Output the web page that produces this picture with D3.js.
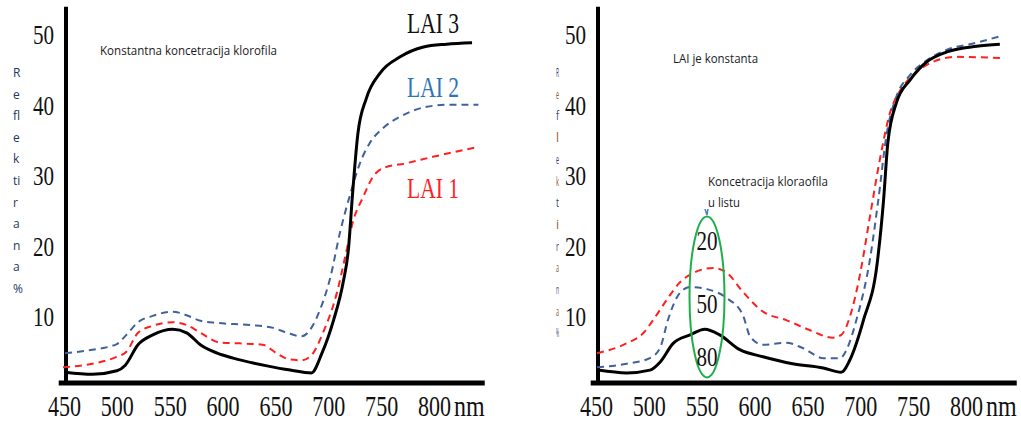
<!DOCTYPE html>
<html>
<head>
<meta charset="utf-8">
<script src="https://cdn.jsdelivr.net/npm/d3@7"></script>
<style>
body{margin:0;background:#fff;}
svg{display:block;}
</style>
</head>
<body>
<div id="chart"></div>
<script>
// wavelength (nm) / reflectance (%) pairs
var leftLai3 = [[451,2.1],[477,1.8],[500,2.3],[508,3.1],[520,6.0],[534,7.4],[553,8.2],[566,7.7],[579,6.0],[595,4.8],[610,4.1],[642,3.0],[664,2.4],[684,2.0],[694,4.8],[705,9.5],[714,14.8],[719,19.5],[723,27.5],[728,36],[736,41],[749,44.6],[768,46.9],[790,48.3],[812,48.7],[836,48.9]];
var leftLai2 = [[451,4.8],[477,5.3],[500,6.1],[509,7.4],[520,9.2],[534,10.1],[553,10.7],[566,10.2],[579,9.4],[595,9.1],[626,8.8],[648,8.4],[661,7.7],[675,7.2],[684,8.4],[692,10.9],[702,15.6],[711,21.9],[721,27.5],[730,31.8],[739,34.6],[752,36.8],[768,38.4],[793,39.8],[815,40.1],[842,40.1]];
var leftLai1 = [[449,2.8],[477,3.3],[500,4.3],[509,5.0],[520,7.7],[534,8.7],[553,9.2],[566,8.8],[579,7.7],[598,6.3],[616,6.2],[638,6.0],[651,4.8],[664,3.9],[675,3.8],[684,4.5],[695,7.7],[708,13.3],[718,19.9],[723,23.3],[733,27],[742,29.8],[752,31.1],[774,31.8],[799,32.7],[842,34.1]];

var rightChl80 = [[452,2.4],[479,2.0],[501,2.4],[511,3.6],[523,6.2],[539,7.4],[553,8.2],[567,7.4],[586,5.3],[608,4.3],[636,3.3],[665,2.7],[682,2.1],[690,3.8],[703,9.5],[716,17.6],[722,26.5],[726,34.6],[734,40.3],[747,43.6],[763,46.2],[782,47.6],[810,48.4],[832,48.7]];
var rightChl50 = [[451,2.8],[479,3.3],[501,4.1],[511,5.7],[518,9.5],[529,13.3],[539,14.2],[555,13.9],[574,12.6],[589,10.2],[596,7.1],[608,6.0],[630,6.3],[646,5.5],[665,4.1],[681,4.1],[687,5.3],[697,9.9],[709,18.0],[717,26.5],[725,36],[734,41.2],[747,44.3],[763,46.4],[782,47.9],[810,48.9],[834,49.9]];
var rightChl20 = [[451,4.8],[479,6.2],[495,7.7],[504,9.5],[517,12.4],[529,14.8],[542,16.2],[561,16.9],[574,16.2],[589,13.5],[608,10.7],[630,9.5],[652,8.1],[674,7.0],[682,7.4],[690,9.9],[700,16.2],[709,24.1],[719,32.7],[728,38.9],[738,42.2],[750,44.3],[769,46.2],[791,46.9],[835,46.7]];

var xTicks = [450,500,550,600,650,700,750,800];
var yTicks = [10,20,30,40,50];
var yLabelLeft = ["R","e","fl","e","k","ti","r","a","n","a","%"];
var yLabelRight = ["R","e","f","l","e","k","t","i","r","a","n","a","%"];
var laiLabels = ["LAI 3","LAI 2","LAI 1"];
var chlLabels = ["20","50","80"];

var width = 1021, height = 423, baseY = 383;
var serif = "'Liberation Serif','Times New Roman',serif";
var sans = "'Open Sans','Noto Sans',sans-serif";

var svg = d3.select("#chart").append("svg")
    .attr("width", width)
    .attr("height", height);

var x = d3.scaleLinear().domain([450,800]).range([64,434]);
var y = d3.scaleLinear().domain([0,50]).range([387,35]);

var line = d3.line()
    .x(function(d){ return x(d[0]); })
    .y(function(d){ return y(d[1]); })
    .curve(d3.curveMonotoneX);

function drawAxes(g){
    var yAx = g.append("g").attr("transform","translate(54,0)")
        .call(d3.axisLeft(y).tickValues(yTicks).tickSize(0).tickPadding(0));
    yAx.select(".domain").remove();
    yAx.selectAll("text")
        .attr("x",0).attr("dy","0.33em")
        .attr("text-anchor","end")
        .attr("transform","scale(0.78,1)")
        .style("font-family",serif).style("font-size","27px").attr("fill","#111");

    var xAx = g.append("g").attr("transform","translate(0,"+baseY+")")
        .call(d3.axisBottom(x).tickValues(xTicks).tickSize(0));
    xAx.select(".domain").remove();
    xAx.selectAll("text")
        .attr("y",0).attr("dy",0)
        .attr("transform","translate(0,33) scale(0.76,1)")
        .style("font-family",serif).style("font-size","29px").attr("fill","#111");

    g.append("text")
        .attr("transform","translate("+(x(800)+20)+","+(baseY+33)+") scale(0.8,1)")
        .style("font-family",serif).style("font-size","30px").attr("fill","#111")
        .text("nm");

    // thick axis lines
    g.append("line")
        .attr("x1",x(450)+2).attr("x2",x(450)+2)
        .attr("y1",y(54)).attr("y2",baseY+2)
        .attr("stroke","#000").attr("stroke-width",4);
    g.append("line")
        .attr("x1",x(445)).attr("x2",x(848))
        .attr("y1",baseY).attr("y2",baseY)
        .attr("stroke","#000").attr("stroke-width",5);
}

function drawSeries(g, data, color, dashed, w){
    g.append("path")
        .datum(data)
        .attr("d",line)
        .attr("fill","none")
        .attr("stroke",color)
        .attr("stroke-width",w)
        .attr("stroke-linejoin","round")
        .attr("stroke-dasharray",dashed ? "7,5" : null);
}

var blue = "#41619c", red = "#ff1f1f";

// ---- left panel
var left = svg.append("g");
drawAxes(left);
drawSeries(left, leftLai1, red, true, 2);
drawSeries(left, leftLai2, blue, true, 2);
drawSeries(left, leftLai3, "#000", false, 3);

left.append("text")
    .attr("x",100).attr("y",55)
    .attr("textLength",177).attr("lengthAdjust","spacingAndGlyphs")
    .style("font-family",sans).style("font-size","12px").attr("fill","#1a1a1a")
    .text("Konstantna koncetracija klorofila");

var laiColors = ["#111","#2e75b6","#ff1f1f"];
var laiY = [33,97,198];
left.selectAll(".lai").data(laiLabels).enter().append("text")
    .attr("class","lai")
    .attr("transform",function(d,i){ return "translate(407,"+laiY[i]+") scale(0.72,1)"; })
    .style("font-family",serif).style("font-size","30px")
    .attr("fill",function(d,i){ return laiColors[i]; })
    .text(function(d){ return d; });

left.selectAll(".vl").data(yLabelLeft).enter().append("text")
    .attr("class","vl")
    .attr("x",13).attr("y",function(d,i){ return 77 + 21.6*i; })
    .style("font-family",sans).style("font-size","12px").attr("fill","#203864")
    .text(function(d){ return d; });

// ---- right panel
var right = svg.append("g").attr("transform","translate(532,0)");

// vertical label, squeezed to thin slivers as in the original
right.selectAll(".vr").data(yLabelRight).enter().append("text")
    .attr("class","vr")
    .attr("x",24).attr("y",function(d,i){ return 77 + 21.7*i; })
    .attr("textLength",3).attr("lengthAdjust","spacingAndGlyphs")
    .style("font-family",sans).style("font-size","12px")
    .attr("fill",function(d,i){ return i % 2 ? "#8a5a2a" : "#2f3f6f"; })
    .text(function(d){ return d; });

drawAxes(right);
drawSeries(right, rightChl20, red, true, 2);
drawSeries(right, rightChl50, blue, true, 2);
drawSeries(right, rightChl80, "#000", false, 3);

right.append("text")
    .attr("x",141).attr("y",63)
    .attr("textLength",85).attr("lengthAdjust","spacingAndGlyphs")
    .style("font-family",sans).style("font-size","12px").attr("fill","#1a1a1a")
    .text("LAI je konstanta");
right.append("text")
    .attr("x",176).attr("y",186)
    .attr("textLength",120).attr("lengthAdjust","spacingAndGlyphs")
    .style("font-family",sans).style("font-size","12px").attr("fill","#1a1a1a")
    .text("Koncetracija kloraofila");
right.append("text")
    .attr("x",176).attr("y",207)
    .attr("textLength",32).attr("lengthAdjust","spacingAndGlyphs")
    .style("font-family",sans).style("font-size","12px").attr("fill","#1a1a1a")
    .text("u listu");

// small blue pointer and green ellipse round the chlorophyll values
right.append("path")
    .attr("d","M173,209 L175,215 L176,209")
    .attr("fill","none").attr("stroke","#4a7ec0").attr("stroke-width",1.5);
right.append("ellipse")
    .attr("cx",x(555)).attr("cy",y(12.8))
    .attr("rx",17.5).attr("ry",80.5)
    .attr("fill","none").attr("stroke","#1fae4a").attr("stroke-width",2);

var chlY = [250,313,366];
right.selectAll(".chl").data(chlLabels).enter().append("text")
    .attr("class","chl")
    .attr("text-anchor","middle")
    .attr("transform",function(d,i){ return "translate("+x(555)+","+chlY[i]+") scale(0.78,1)"; })
    .style("font-family",serif).style("font-size","27px").attr("fill","#111")
    .text(function(d){ return d; });
</script>
</body>
</html>
